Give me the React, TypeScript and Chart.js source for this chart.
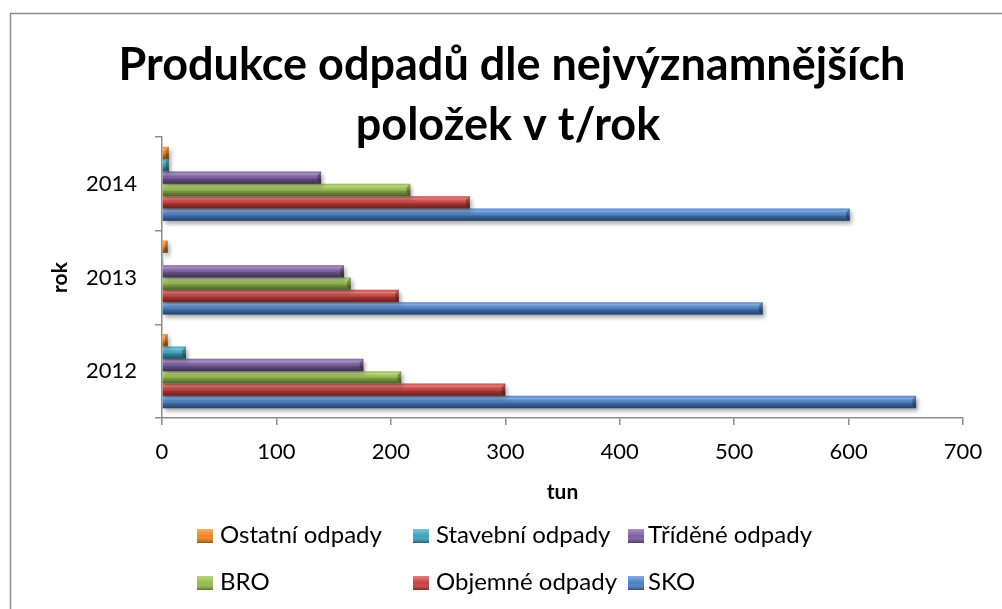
import React, { useEffect, useRef } from 'react';
import { Chart, registerables } from 'chart.js';

Chart.register(...registerables);

// ---- data ----
const categories = ['2014', '2013', '2012'];
const seriesNames = ['Ostatní odpady', 'Stavební odpady', 'Tříděné odpady', 'BRO', 'Objemné odpady', 'SKO'];
const ostatniOdpady = [6, 5, 5];
const stavebniOdpady = [6, 1, 21];
const trideneOdpady = [139, 159, 176];
const bro = [217, 165, 209];
const objemneOdpady = [269, 207, 300];
const sko = [601, 525, 659];
const seriesValues = [ostatniOdpady, stavebniOdpady, trideneOdpady, bro, objemneOdpady, sko];
const seriesColors = ['#F0841E', '#3CA2BE', '#7A5CA0', '#94BC4C', '#C8403C', '#4A80C8'];
const xMin = 0;
const xMax = 700;
const xStep = 100;
const titleLines = ['Produkce odpadů dle nejvýznamnějších', 'položek v t/rok'];
const xTitle = 'tun';
const yTitle = 'rok';

const FONT = 'Lato, "Open Sans", sans-serif';

const framePlugin = {
  id: 'frame',
  beforeDraw(chart: any) {
    const ctx = chart.ctx;
    ctx.save();
    ctx.fillStyle = '#ffffff';
    ctx.fillRect(0, 0, chart.width, chart.height);
    ctx.strokeStyle = '#8c8c8c';
    ctx.lineWidth = 1.5;
    ctx.beginPath();
    ctx.moveTo(10.5, chart.height + 5);
    ctx.lineTo(10.5, 13.5);
    ctx.lineTo(chart.width + 5, 13.5);
    ctx.stroke();
    ctx.restore();
  },
};

const titlePlugin = {
  id: 'customTitle',
  afterDraw(chart: any) {
    const ctx = chart.ctx;
    ctx.save();
    ctx.fillStyle = '#000000';
    ctx.font = `bold 45px ${FONT}`;
    ctx.textAlign = 'center';
    ctx.textBaseline = 'alphabetic';
    ctx.fillText(titleLines[0], 512, 80);
    ctx.fillText(titleLines[1], 508, 140);
    ctx.restore();
  },
};

const bevelPlugin = {
  id: 'bevel',
  beforeDatasetsDraw(chart: any) {
    const ctx = chart.ctx;
    ctx.save();
    ctx.shadowColor = 'rgba(0,0,0,0.35)';
    ctx.shadowBlur = 4;
    ctx.shadowOffsetX = 2;
    ctx.shadowOffsetY = 3;
  },
  afterDatasetsDraw(chart: any) {
    const ctx = chart.ctx;
    ctx.restore();
    ctx.save();
    chart.data.datasets.forEach((ds: any, di: number) => {
      const meta = chart.getDatasetMeta(di);
      meta.data.forEach((el: any) => {
        const left = Math.min(el.base, el.x);
        const right = Math.max(el.base, el.x);
        const top = el.y - el.height / 2;
        const bottom = el.y + el.height / 2;
        const w = right - left;
        const h = bottom - top;
        if (w <= 0) return;
        const g = ctx.createLinearGradient(0, top, 0, bottom);
        g.addColorStop(0, 'rgba(255,255,255,0.05)');
        g.addColorStop(0.2, 'rgba(255,255,255,0.32)');
        g.addColorStop(0.4, 'rgba(255,255,255,0.05)');
        g.addColorStop(0.6, 'rgba(0,0,0,0.18)');
        g.addColorStop(1, 'rgba(0,0,0,0.5)');
        ctx.fillStyle = g;
        ctx.fillRect(left, top, w, h);
        const b = Math.min(h * 0.3, w / 2);
        ctx.fillStyle = 'rgba(0,0,0,0.28)';
        ctx.beginPath();
        ctx.moveTo(right - b, top + b);
        ctx.lineTo(right, top);
        ctx.lineTo(right, bottom);
        ctx.lineTo(right - b, bottom - b);
        ctx.closePath();
        ctx.fill();
      });
    });
    ctx.restore();
  },
};

const legendPlugin = {
  id: 'gridLegend',
  afterDraw(chart: any) {
    const ctx = chart.ctx;
    const boxX = [197, 413, 628];
    const textX = [220, 436, 648];
    const baseY = [543, 590];
    ctx.save();
    ctx.font = `24px ${FONT}`;
    ctx.textBaseline = 'alphabetic';
    ctx.textAlign = 'left';
    seriesNames.forEach((name, i) => {
      const c = i % 3;
      const y = baseY[Math.floor(i / 3)];
      const bx = boxX[c];
      const by = y - 14;
      ctx.fillStyle = seriesColors[i];
      ctx.fillRect(bx, by, 16, 14);
      const g = ctx.createLinearGradient(bx, by, bx, by + 14);
      g.addColorStop(0, 'rgba(255,255,255,0.35)');
      g.addColorStop(0.5, 'rgba(255,255,255,0.0)');
      g.addColorStop(1, 'rgba(0,0,0,0.4)');
      ctx.fillStyle = g;
      ctx.fillRect(bx, by, 16, 14);
      ctx.fillStyle = '#000000';
      ctx.fillText(name, textX[c], y);
    });
    ctx.restore();
  },
};

export default function App() {
  const canvasRef = useRef<HTMLCanvasElement | null>(null);

  useEffect(() => {
    if (!canvasRef.current) return;
    const chart = new Chart(canvasRef.current, {
      type: 'bar',
      data: {
        labels: categories,
        datasets: seriesNames.map((name, i) => ({
          label: name,
          data: seriesValues[i],
          backgroundColor: seriesColors[i],
          borderWidth: 0,
          barPercentage: 1.0,
          categoryPercentage: 0.79,
        })),
      },
      options: {
        indexAxis: 'y',
        animation: false,
        responsive: false,
        maintainAspectRatio: false,
        layout: { padding: { left: 48, right: 39, top: 137, bottom: 104 } },
        plugins: {
          legend: { display: false },
          title: { display: false },
          tooltip: { enabled: false },
        },
        scales: {
          x: {
            type: 'linear',
            min: xMin,
            max: xMax,
            ticks: {
              stepSize: xStep,
              color: '#000000',
              font: { family: FONT, size: 22 },
              padding: 14,
            },
            grid: { drawOnChartArea: false, drawTicks: true, tickLength: 7, color: '#8c8c8c', lineWidth: 1.5 },
            border: { color: '#8c8c8c', width: 1.5 },
            title: {
              display: true,
              text: xTitle,
              color: '#000000',
              font: { family: FONT, size: 21, weight: 'bold' },
              padding: { top: 0, bottom: 0 },
            },
            afterFit: (s: any) => { s.height = 87; },
          },
          y: {
            type: 'category',
            offset: true,
            ticks: {
              color: '#000000',
              font: { family: FONT, size: 22 },
              padding: 18,
            },
            grid: { offset: true, drawOnChartArea: false, drawTicks: true, tickLength: 7, color: '#8c8c8c', lineWidth: 1.5 },
            border: { color: '#8c8c8c', width: 1.5 },
            title: {
              display: true,
              text: yTitle,
              color: '#000000',
              font: { family: FONT, size: 21, weight: 'bold' },
              padding: { top: 0, bottom: 0 },
            },
            afterFit: (s: any) => { s.width = 162 - 48; },
          },
        },
      },
      plugins: [framePlugin, bevelPlugin, titlePlugin, legendPlugin],
    } as any);
    return () => chart.destroy();
  }, []);

  return (
    <div style={{ position: 'fixed', left: 0, top: 0, width: 1002, height: 609, background: '#fff' }}>
      <canvas ref={canvasRef} width={1002} height={609} style={{ width: 1002, height: 609, display: 'block' }} />
    </div>
  );
}
